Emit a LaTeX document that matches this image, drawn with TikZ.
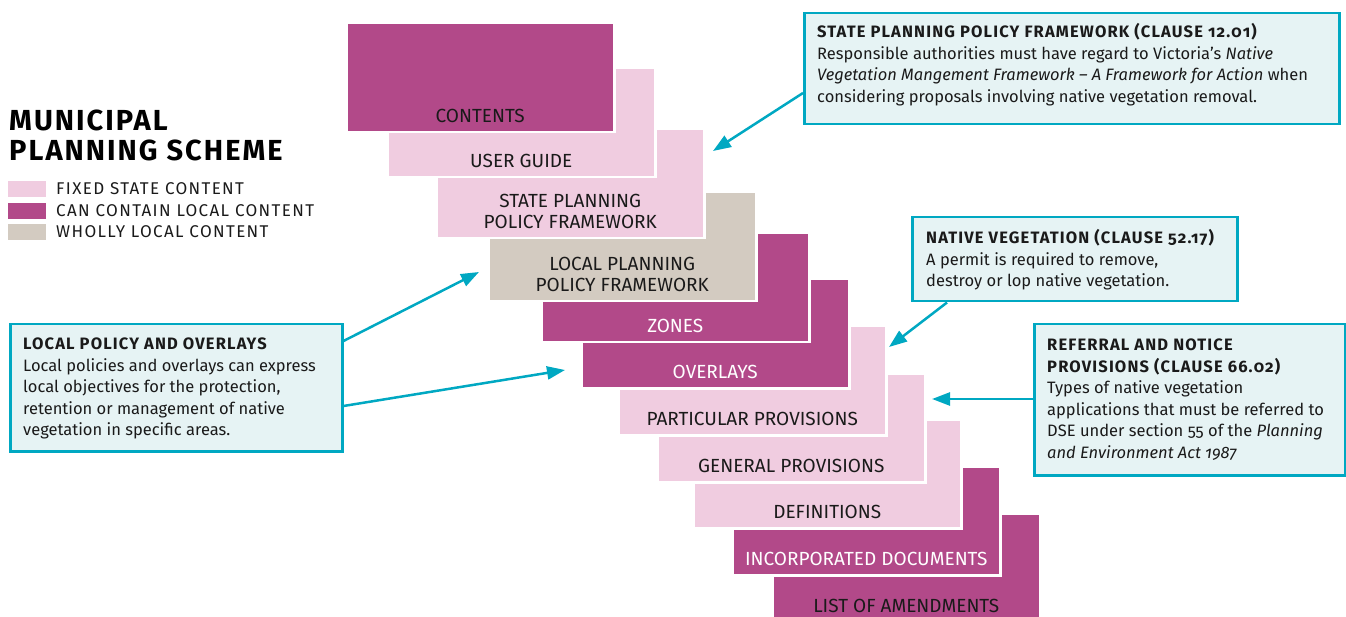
\documentclass[tikz,border=0pt]{standalone}
\usepackage{fontspec}
\setmainfont{Fira Sans}[Numbers=OldStyle]
\newfontfamily\capsfont{Fira Sans}[LetterSpace=7, Numbers=OldStyle]
\newfontfamily\legfont{Fira Sans}[LetterSpace=8, Numbers=OldStyle]
\usetikzlibrary{arrows.meta,calc}
\definecolor{mag}{HTML}{B24989}
\definecolor{pinkc}{HTML}{F0CCE0}
\definecolor{beige}{HTML}{D3CBC1}
\definecolor{cyanb}{HTML}{00A8C2}
\definecolor{calfill}{HTML}{E6F3F4}
\definecolor{ink}{HTML}{1A1A1A}
\newcommand{\ctitle}[1]{{\capsfont\bfseries #1}}
\begin{document}
\begin{tikzpicture}[x=1pt,y=-1pt,
  blk/.style={draw=white, line width=2.5pt, minimum width=268pt, minimum height=109pt, anchor=north west, inner sep=0pt},
  lbl/.style={anchor=south, inner sep=0pt, text depth=0pt, align=center, font=\fontsize{19}{21}\selectfont},
  callout/.style={draw=cyanb, line width=2.5pt, fill=calfill, anchor=north west, inner sep=0pt},
  ctext/.style={anchor=north west, align=left, inner sep=0pt, text=ink, font=\fontsize{16.5}{21.5}\selectfont},
  arr/.style={draw=cyanb, line width=2.5pt, -{Triangle[length=18pt,width=13pt]}},
  legsq/.style={anchor=north west, inner sep=0pt, minimum width=38pt, minimum height=16pt},
  legtx/.style={anchor=base west, inner sep=0pt, text=ink, font=\legfont\fontsize{17}{20}\selectfont}
  ]
\useasboundingbox (0,0) rectangle (1346,617);

% legend
\node[anchor=north west, inner sep=0pt, align=left, text=black, font=\capsfont\bfseries\fontsize{29}{30}\selectfont] (title) at (9,110) {MUNICIPAL\\PLANNING SCHEME};
\node[legsq, fill=pinkc] (sq1) at (8,181) {};
\node[legsq, fill=mag] (sq2) at (8,203) {};
\node[legsq, fill=beige] (sq3) at (8,224) {};
\node[legtx] (lg1) at (56,194.5) {FIXED STATE CONTENT};
\node[legtx] (lg2) at (56,216.5) {CAN CONTAIN LOCAL CONTENT};
\node[legtx] (lg3) at (56,238) {WHOLLY LOCAL CONTENT};

% staircase (drawn from bottom to top so earlier blocks lie above)
\foreach \n/\x/\y/\f/\c/\t in {
  b11/771/512/mag/ink/{LIST OF AMENDMENTS},
  b10/731/465/mag/white/{INCORPORATED DOCUMENTS},
  b9/692/418/pinkc/ink/{DEFINITIONS},
  b8/656/372/pinkc/ink/{GENERAL PROVISIONS},
  b7/617/325/pinkc/ink/{PARTICULAR PROVISIONS},
  b6/580/278/mag/white/{OVERLAYS},
  b5/540/232/mag/white/{ZONES},
  b4/487/191/beige/ink/{LOCAL PLANNING\\POLICY FRAMEWORK},
  b3/435/128/pinkc/ink/{STATE PLANNING\\POLICY FRAMEWORK},
  b2/386/67/pinkc/ink/{USER GUIDE},
  b1/345/22/mag/ink/{CONTENTS}}{
  \node[blk, fill=\f] (\n) at (\x,\y) {};
  \node[lbl, text=\c] (\n t) at ($(\n.south)+(0,-11)$) {\t};
}

% callouts
\node[callout, minimum width=535pt, minimum height=111pt] (sppf) at (803,12) {};
\node[ctext] (sppft) at ($(sppf.north west)+(14,10.6)$)
 {\strut\ctitle{STATE PLANNING POLICY FRAMEWORK (CLAUSE 12.01)}\\
 Responsible authorities must have regard to Victoria’s \textit{Native}\\
 \textit{Vegetation Mangement Framework – A Framework for Action} when\\
 considering proposals involving native vegetation removal.};

\node[callout, minimum width=325pt, minimum height=84pt] (nv) at (911,216) {};
\node[ctext] (nvt) at ($(nv.north west)+(15,12.6)$)
 {\strut\ctitle{NATIVE VEGETATION (CLAUSE 52.17)}\\
 A permit is required to remove,\\
 destroy or lop native vegetation.};

\node[callout, minimum width=311pt, minimum height=151pt] (ref) at (1033,323) {};
\node[ctext] (reft) at ($(ref.north west)+(14,12.6)$)
 {\strut\ctitle{REFERRAL AND NOTICE}\\
 \ctitle{PROVISIONS (CLAUSE 66.02)}\\
 Types of native vegetation\\
 applications that must be referred to\\
 DSE under section 55 of the \textit{Planning}\\
 \textit{and Environment Act 1987}};

\node[callout, minimum width=332pt, minimum height=127pt] (loc) at (9,323) {};
\node[ctext] (loct) at ($(loc.north west)+(14,11.6)$)
 {\strut\ctitle{LOCAL POLICY AND OVERLAYS}\\
 Local policies and overlays can express\\
 local objectives for the protection,\\
 retention or management of native\\
 vegetation in specific areas.};

% arrow targets
\coordinate (tA) at (713,151);
\coordinate (tB) at (889,347);
\coordinate (tC) at (932,399);
\coordinate (tD) at (479,272);
\coordinate (tE) at (565,370);

\draw[arr] ($(sppf.north west)+(0,81)$) -- (tA);
\draw[arr] ($(nv.south west)+(36,0)$) -- (tB);
\draw[arr] ($(ref.north west)+(0,76)$) -- (tC);
\draw[arr] ($(loc.north east)+(0,18)$) -- (tD);
\draw[arr] ($(loc.north east)+(0,83)$) -- (tE);
\end{tikzpicture}
\end{document}
